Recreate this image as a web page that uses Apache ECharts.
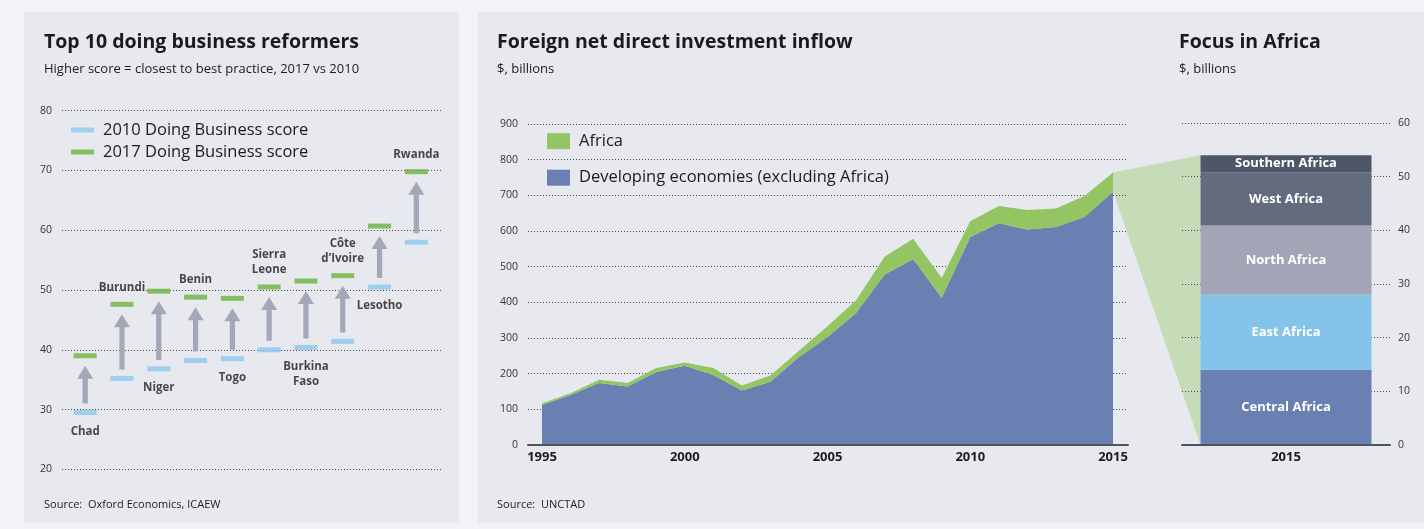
<!DOCTYPE html>
<html><head><meta charset="utf-8">
<script src="https://cdn.jsdelivr.net/npm/echarts@6/dist/echarts.min.js"></script>
<style>
html,body{margin:0;padding:0;background:#f2f3f7;width:1424px;height:529px;overflow:hidden;}
.panel{position:absolute;background:#e8e9ee;}
#p1{left:24px;top:12px;width:435px;height:511px;}
#p2{left:478px;top:12px;width:946px;height:511px;}
#chart{position:absolute;left:0;top:0;width:1424px;height:529px;}
</style></head><body>
<div class="panel" id="p1"></div><div class="panel" id="p2"></div>
<div id="chart"></div>
<script>
// ---- data ----
const reformers = ['Chad','Burundi','Niger','Benin','Togo','Sierra Leone','Burkina Faso','Côte d’Ivoire','Lesotho','Rwanda'];
const score2010 = [29.5,35.2,36.8,38.2,38.5,40.0,40.4,41.4,50.5,58.0];
const score2017 = [39.0,47.6,49.8,48.8,48.6,50.5,51.5,52.4,60.7,69.8];
const labelSide = ['below','above','below','above','below','above','below','above','below','above'];

const years = ['1995','1996','1997','1998','1999','2000','2001','2002','2003','2004','2005','2006','2007','2008','2009','2010','2011','2012','2013','2014','2015'];
const developing = [112,140,174,164,205,222,196,153,177,247,303,370,478,521,413,583,622,604,611,639,710];
const africa =     [5,  5,  9,  10, 11, 9,  20, 14, 18, 17, 30, 36, 50, 57, 55, 44, 48, 55, 52, 59, 54];

const focusYear = ['2015'];
const regions = ['Central Africa','East Africa','North Africa','West Africa','Southern Africa'];
const regionValues = [14.0,14.0,12.9,9.9,3.2];

// ---- styles ----
const FONT = "'Open Sans', sans-serif";
const TXT = '#1b1b1b';
const GRIDLINE = {show:true, lineStyle:{color:'#4a4a4a', width:1, type:[1,2]}};
const C2010 = '#8cc8ee', C2017 = '#6cb33f', ARROW = '#a4a7b7';
const CDEV = '#6a80b2', CAFR = '#93c562';
const regionColors = ['#6a80b2','#84c3ea','#a1a5b5','#646b7f','#4f566a'];
const BARW = 171;

const chart = echarts.init(document.getElementById('chart'), null, {renderer:'canvas'});

function titleItem(text, left, top, size, bold){
  return {text, left, top, textStyle:{fontFamily:FONT, fontSize:size, fontWeight:bold?'bold':'normal', color:TXT}, padding:0};
}

const scatterLabel = (side) => (name) => ({
  show:true, position: side==='above'?'top':'bottom', distance: side==='above'?7:9,
  formatter: name.replace(' ', '\n'), fontFamily:FONT, fontWeight:'bold', fontSize:11.5, lineHeight:15, color:TXT
});

const option = {
  animation:false,
  textStyle:{fontFamily:FONT},
  title:[
    titleItem('Top 10 doing business reformers', 44, 32, 19.5, true),
    titleItem('Higher score = closest to best practice, 2017 vs 2010', 44, 63, 13, false),
    titleItem('Source:  Oxford Economics, ICAEW', 44, 499, 11, false),
    titleItem('Foreign net direct investment inflow', 497, 32, 19.5, true),
    titleItem('$, billions', 497, 63, 13, false),
    titleItem('Source:  UNCTAD', 497, 499, 11, false),
    titleItem('Focus in Africa', 1179, 32, 19.5, true),
    titleItem('$, billions', 1179, 63, 13, false)
  ],
  legend:[
    {left:71, top:121.5, padding:0, orient:'vertical', itemWidth:23, itemHeight:5, itemGap:5, icon:'rect',
     data:['2010 Doing Business score','2017 Doing Business score'],
     textStyle:{fontFamily:FONT, fontSize:16.5, lineHeight:16, color:TXT, padding:[0,0,0,4]}},
    {left:547, top:132.7, padding:0, orient:'vertical', itemWidth:23, itemHeight:16, itemGap:19.5, icon:'rect',
     data:['Africa','Developing economies (excluding Africa)'],
     itemStyle:{borderWidth:0},
     textStyle:{fontFamily:FONT, fontSize:16.5, lineHeight:16, color:TXT, padding:[0,0,0,4]}}
  ],
  grid:[
    {left:62, top:110.7, width:379, height:358.6},
    {left:528, top:124, width:600, height:321},
    {left:542, top:124, width:571, height:321},
    {left:1182, top:123, width:208, height:322}
  ],
  xAxis:[
    {gridIndex:0, type:'value', min:-0.63, max:9.67, show:false},
    {gridIndex:1, type:'value', min:0, max:1, z:5, axisLine:{show:true, onZero:false, lineStyle:{color:'#4d5260', width:2}},
     axisTick:{show:false}, axisLabel:{show:false}, splitLine:{show:false}},
    {gridIndex:2, type:'category', data:years, boundaryGap:false, axisLine:{show:false}, axisTick:{show:false},
     axisLabel:{interval:4, margin:6, fontFamily:FONT, fontWeight:'bold', fontSize:13, color:TXT}, splitLine:{show:false}},
    {gridIndex:3, type:'category', data:focusYear, z:5, axisLine:{show:true, lineStyle:{color:'#4d5260', width:2}},
     axisTick:{show:false}, axisLabel:{margin:6, fontFamily:FONT, fontWeight:'bold', fontSize:13, color:TXT}}
  ],
  yAxis:[
    {gridIndex:0, type:'value', min:20, max:80, interval:10, axisLine:{show:false}, axisTick:{show:false},
     axisLabel:{margin:10, fontFamily:FONT, fontSize:10.5, color:'#333'}, splitLine:GRIDLINE},
    {gridIndex:1, type:'value', min:0, max:900, interval:100, axisLine:{show:false}, axisTick:{show:false},
     axisLabel:{margin:10, fontFamily:FONT, fontSize:10.5, color:'#333'}, splitLine:GRIDLINE},
    {gridIndex:2, type:'value', min:0, max:900, interval:100, show:false, splitLine:{show:false}},
    {gridIndex:3, type:'value', min:0, max:60, interval:10, position:'right', axisLine:{show:false}, axisTick:{show:false},
     axisLabel:{margin:8, fontFamily:FONT, fontSize:10.5, color:'#333'}, splitLine:GRIDLINE}
  ],
  series:[
    {type:'custom', xAxisIndex:0, yAxisIndex:0, silent:true, z:2,
     data: reformers.map((n,i)=>[i, score2010[i], score2017[i]]),
     encode:{x:0, y:[1,2]},
     renderItem:(params, api)=>{
       const p0 = api.coord([api.value(0), api.value(1)]);
       const p1 = api.coord([api.value(0), api.value(2)]);
       const cx = p0[0], tail = p0[1]-9, tip = p1[1]+10, hh = 13, hw = 8, sw = 2.6;
       return {type:'polygon', shape:{points:[[cx-sw,tail],[cx-sw,tip+hh],[cx-hw,tip+hh],[cx,tip],[cx+hw,tip+hh],[cx+sw,tip+hh],[cx+sw,tail]]},
               style:{fill:ARROW}};
     }},
    {name:'2010 Doing Business score', type:'scatter', xAxisIndex:0, yAxisIndex:0, symbol:'rect', symbolSize:[23,5], z:3,
     itemStyle:{color:C2010},
     data: reformers.map((n,i)=>({value:[i, score2010[i]], label: labelSide[i]==='below'? scatterLabel('below')(n) : {show:false}}))},
    {name:'2017 Doing Business score', type:'scatter', xAxisIndex:0, yAxisIndex:0, symbol:'rect', symbolSize:[23,5], z:3,
     itemStyle:{color:C2017},
     data: reformers.map((n,i)=>({value:[i, score2017[i]], label: labelSide[i]==='above'? scatterLabel('above')(n) : {show:false}}))},
    {name:'Developing economies (excluding Africa)', type:'line', xAxisIndex:2, yAxisIndex:2, stack:'fdi', symbol:'none',
     lineStyle:{width:0}, itemStyle:{color:CDEV}, areaStyle:{color:CDEV, opacity:1}, data:developing},
    {name:'Africa', type:'line', xAxisIndex:2, yAxisIndex:2, stack:'fdi', symbol:'none',
     lineStyle:{width:0}, itemStyle:{color:CAFR}, areaStyle:{color:CAFR, opacity:1}, data:africa},
    ...regions.map((r,i)=>({name:r, type:'bar', xAxisIndex:3, yAxisIndex:3, stack:'focus', barWidth:BARW,
      itemStyle:{color:regionColors[i]}, data:[regionValues[i]],
      label:{show:true, position:'inside', formatter:r, fontFamily:FONT, fontWeight:'bold', fontSize:13, color:'#fff'}}))
  ]
};
chart.setOption(option);

// connector between the 2015 Africa band and the Focus-in-Africa bar
const last = years.length-1;
const total = developing[last]+africa[last];
const regionSum = regionValues.reduce((a,b)=>a+b,0);
const a1 = chart.convertToPixel({gridIndex:2}, [last, total]);
const a2 = chart.convertToPixel({gridIndex:2}, [last, developing[last]]);
const b1 = chart.convertToPixel({gridIndex:3}, [0, regionSum]);
const b2 = chart.convertToPixel({gridIndex:3}, [0, 0]);
const bx = b1[0]-BARW/2;
chart.setOption({graphic:[{type:'polygon', z:-1, silent:true,
  shape:{points:[[a1[0],a1[1]],[bx,b1[1]],[bx,b2[1]],[a2[0],a2[1]]]},
  style:{fill:'#c6dbb8'}}]});
</script>
</body></html>
